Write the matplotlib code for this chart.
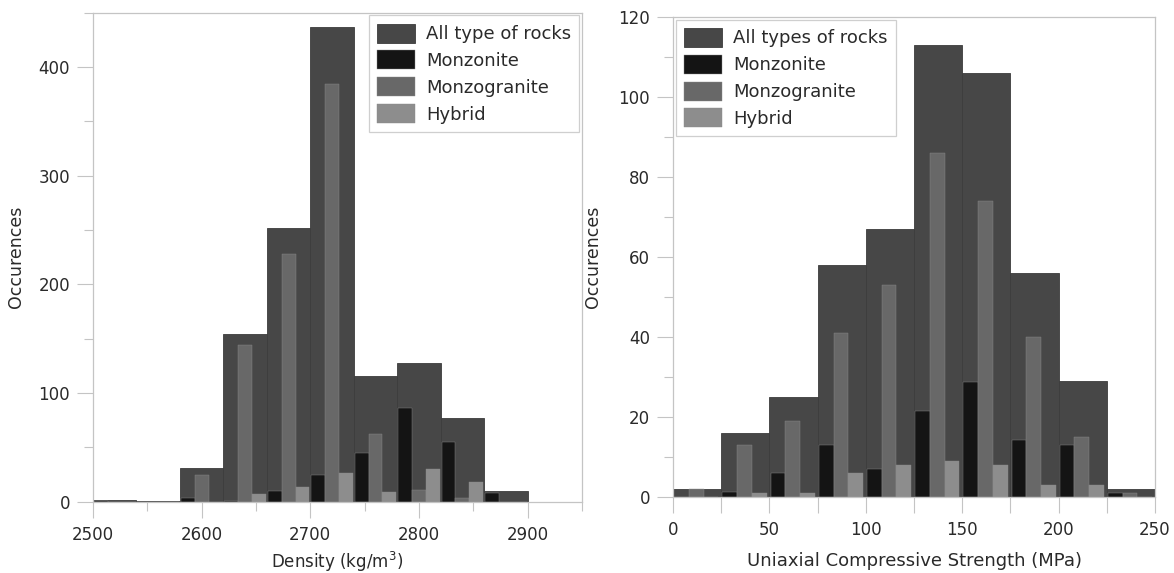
import numpy as np
import matplotlib
matplotlib.use('Agg')
import matplotlib.pyplot as plt
from matplotlib.ticker import MultipleLocator

plt.rcParams['font.family'] = 'DejaVu Sans'

# density histogram, bins of 40 kg/m3
dens_edges = [2500, 2540, 2580, 2620, 2660, 2700, 2740, 2780, 2820, 2860]
dens_all = [1.8, 1, 30.6, 154, 252, 437, 116, 128, 77, 10]
dens_monzonite = [1, 0, 3, 1, 10, 25, 45, 86, 55, 8]
dens_monzogranite = [0, 0, 24.5, 144, 228, 384, 62, 11, 3, 0]
dens_hybrid = [0, 0, 0, 7, 14, 26, 8.5, 30, 18, 0]

# UCS histogram, bins of 25 MPa
ucs_edges = [0, 25, 50, 75, 100, 125, 150, 175, 200, 225]
ucs_all = [2, 16, 25, 58, 67, 113, 106, 56, 29, 2]
ucs_monzonite = [0, 1.2, 6, 13, 7, 21.5, 28.7, 14.3, 13, 1]
ucs_monzogranite = [2, 13, 19, 41, 53, 86, 74, 40, 15, 1]
ucs_hybrid = [0, 1, 1, 6, 8, 9, 8, 3, 3, 0]

c_all = '#474747'
c_monz = '#141414'
c_granite = '#686868'
c_hyb = '#8d8d8d'
grid_col = '#c4c4c4'
txt_col = '#2a2a2a'


def draw_hist(ax, edges, width, total, subsets, labels, frac, off):
    edges = np.array(edges, dtype=float)
    ax.bar(edges, total, width=width, align='edge', color=c_all,
           edgecolor='#3c3c3c', linewidth=0.6, label=labels[0], zorder=1)
    sub_w = width * frac
    cols = [c_monz, c_granite, c_hyb]
    for i, (vals, col) in enumerate(zip(subsets, cols)):
        ax.bar(edges + width * off + i * sub_w, vals, width=sub_w, align='edge',
               color=col, edgecolor='#8a8a8a', linewidth=0.3,
               label=labels[i + 1], zorder=2)


def style_axes(ax):
    for sp in ax.spines.values():
        sp.set_color(grid_col)
        sp.set_linewidth(0.9)
    ax.tick_params(which='major', length=11.5, width=0.8, color=grid_col,
                   labelsize=12, labelcolor=txt_col, pad=5)
    ax.tick_params(which='minor', length=6.5, width=0.8, color=grid_col)
    ax.tick_params(axis='x', which='major', pad=6)


fig = plt.figure(figsize=(11.74, 5.73), dpi=100)
ax1 = fig.add_axes([0.0792, 0.1244, 0.4165, 0.8534])
ax2 = fig.add_axes([0.5733, 0.1326, 0.4105, 0.8377])

draw_hist(ax1, dens_edges, 40, dens_all,
          [dens_monzonite, dens_monzogranite, dens_hybrid],
          ['All type of rocks', 'Monzonite', 'Monzogranite', 'Hybrid'],
          0.32, 0.02)
ax1.set_xlim(2500, 2950)
ax1.set_ylim(0, 450)
ax1.xaxis.set_minor_locator(MultipleLocator(50))
ax1.yaxis.set_major_locator(MultipleLocator(100))
ax1.yaxis.set_minor_locator(MultipleLocator(50))
ax1.set_xticks([2500, 2600, 2700, 2800, 2900])
style_axes(ax1)
ax1.set_xlabel('Density (kg/m$^3$)', fontsize=12, color=txt_col, labelpad=4)
ax1.set_ylabel('Occurences', fontsize=12.5, color=txt_col, labelpad=10)

draw_hist(ax2, ucs_edges, 25, ucs_all,
          [ucs_monzonite, ucs_monzogranite, ucs_hybrid],
          ['All types of rocks', 'Monzonite', 'Monzogranite', 'Hybrid'],
          0.305, 0.025)
ax2.set_xlim(0, 250)
ax2.set_ylim(0, 120)
ax2.xaxis.set_major_locator(MultipleLocator(50))
ax2.xaxis.set_minor_locator(MultipleLocator(25))
ax2.yaxis.set_major_locator(MultipleLocator(20))
ax2.yaxis.set_minor_locator(MultipleLocator(10))
style_axes(ax2)
ax2.tick_params(axis='x', which='minor', length=11.5)
ax2.set_xlabel('Uniaxial Compressive Strength (MPa)', fontsize=13, color=txt_col, labelpad=9)
ax2.set_ylabel('Occurences', fontsize=12.5, color=txt_col, labelpad=12)

for ax, loc in [(ax1, 'upper right'), (ax2, 'upper left')]:
    leg = ax.legend(loc=loc, fontsize=13, frameon=True, fancybox=False,
                    handlelength=2.1, handleheight=1.25, labelspacing=0.4,
                    handletextpad=0.62, borderpad=0.45, borderaxespad=0.15)
    leg.get_frame().set_edgecolor(grid_col)
    leg.get_frame().set_linewidth(0.9)
    for t in leg.get_texts():
        t.set_color(txt_col)

fig.savefig('out.png', dpi=100)
